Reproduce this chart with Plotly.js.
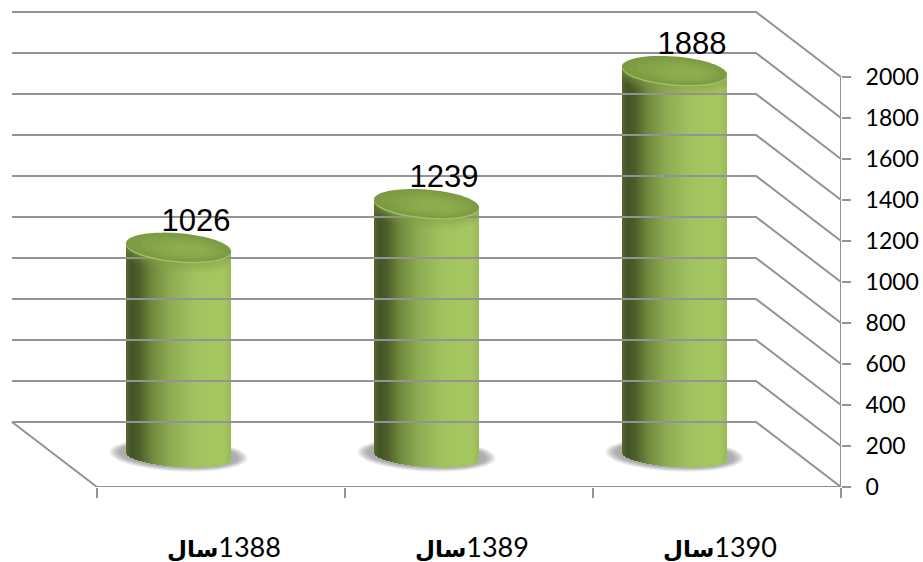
<!DOCTYPE html>
<html><head><meta charset="utf-8">
<script src="https://cdn.plot.ly/plotly-3.0.1.min.js"></script>
<style>html,body{margin:0;padding:0;background:#fff}</style></head>
<body><div id="chart" style="width:923px;height:562px"></div>
<script>
const yearWord = '\u0633\u0627\u0644';
const years = ['1388', '1389', '1390'];
const values = [1026, 1239, 1888];
const yTicks = [0, 200, 400, 600, 800, 1000, 1200, 1400, 1600, 1800, 2000];
const bodyStops = [[0,'#55682f'],[0.05,'#455429'],[0.12,'#4c5d2a'],[0.25,'#6f8a3c'],[0.42,'#8dab52'],[0.65,'#a2c25f'],[0.93,'#a5c760'],[1,'#9ab858']];
const capRings = [[1,0,1.5,'#a3bf63'],[1,0,0,'#7c9b42'],[0.9,2,0.5,'#7f9e44'],[0.78,4,1,'#83a247'],[0.65,6,1.5,'#87a64a'],[0.5,8,2,'#8aa94c'],[0.35,10,2,'#8dac4e']];
const shoulder = [[12,0.08],[10,0.10],[8,0.12],[6,0.15],[4,0.18],[2,0.22]];
const shadowRings = [[69,16.5,0.10],[67,15.5,0.11],[65,14.5,0.12],[63,14,0.13],[60,13,0.15]];

const W = 923, H = 562, mL = 10, mR = 82, mT = 5, mB = 75;
const pxX = 248, pxY = 0.205;
const depthX = 85 / pxX, depthY = 65 / pxY;
const colShift = 42.5 / pxX, colHalf = 52.5;
const capB = 14, botB = 10.5, tiltTop = 4, tiltBot = 3.5;
const baseV = 30.5 / pxY, capRise = 29.5 / pxY;
const grey = '#939393';

function hex(c){return [1,3,5].map(i=>parseInt(c.substr(i,2),16));}
function ramp(t){
  for(let i=1;i<bodyStops.length;i++){
    if(t<=bodyStops[i][0]){
      const [a,ca]=bodyStops[i-1],[b,cb]=bodyStops[i];
      const f=(t-a)/(b-a),A=hex(ca),B=hex(cb);
      return 'rgb('+A.map((v,k)=>Math.round(v+(B[k]-v)*f)).join(',')+')';
    }
  }
  return bodyStops[bodyStops.length-1][1];
}
function ellipsePath(cx,cyV,a,b,tilt,dxPx,dyPx){
  let d='';
  for(let k=0;k<72;k++){
    const th=k/72*2*Math.PI;
    const x=cx+(a*Math.cos(th)+dxPx)/pxX;
    const y=cyV-(b*Math.sin(th)+tilt*Math.cos(th)+dyPx)/pxY;
    d+=(k?'L':'M')+x.toFixed(4)+','+y.toFixed(2);
  }
  return d+'Z';
}

const traces = [], shapes = [];

/* back wall and side wall grid lines */
const gx=[], gy=[];
yTicks.forEach(v=>{
  gx.push(-85/pxX,3-depthX,3,null);
  gy.push(v+depthY,v+depthY,v,null);
});
gx.push(-85/pxX,0,null,0,3,null,3,3);
gy.push(depthY,0,null,0,0,null,0,2000);
traces.push({type:'scatter',mode:'lines',x:gx,y:gy,line:{color:grey,width:2},hoverinfo:'skip',showlegend:false,connectgaps:false});

/* cylinders */
values.forEach((v,i)=>{
  const cx=i+0.5-colShift;
  shadowRings.forEach(s=>{
    shapes.push({type:'path',layer:'below',xref:'x',yref:'y',path:ellipsePath(cx,baseV,s[0],s[1],3,0,-1.5),
      fillcolor:'rgba(90,90,90,'+s[2]+')',line:{width:0}});
  });
  const topV=v+capRise;
  const xs=[],bs=[],ys=[],cs=[],ws=[];
  const n=105;
  for(let k=0;k<n;k++){
    const t=(k+0.5)/n, u=2*t-1;
    const bot=baseV-(botB*Math.sqrt(1-u*u)+tiltBot*u)/pxY;
    xs.push(cx+u*colHalf/pxX);
    bs.push(bot);
    ys.push(topV-tiltTop*u/pxY-bot);
    cs.push(ramp(t));
    ws.push(1.25/pxX);
  }
  traces.push({type:'bar',x:xs,y:ys,base:bs,width:ws,marker:{color:cs,line:{width:0}},hoverinfo:'skip',showlegend:false});
  shoulder.forEach(s=>{
    shapes.push({type:'path',layer:'above',xref:'x',yref:'y',path:ellipsePath(cx,topV,colHalf,capB,tiltTop,0,s[0]),
      fillcolor:'rgba(134,160,72,'+s[1]+')',line:{width:0}});
  });
  capRings.forEach(r=>{
    shapes.push({type:'path',layer:'above',xref:'x',yref:'y',
      path:ellipsePath(cx,topV,colHalf*r[0],capB*r[0],tiltTop*r[0],r[1],r[2]),fillcolor:r[3],line:{width:0}});
  });
});

/* value labels */
traces.push({type:'scatter',mode:'text',
  x:values.map((v,i)=>i+0.5-colShift+17.5/pxX),
  y:values.map(v=>v+263),
  text:values.map(String),textposition:'middle center',
  textfont:{family:'"Liberation Sans",Arial,sans-serif',size:31,color:'#000'},
  hoverinfo:'skip',showlegend:false});

/* x2 carries only the tick marks between categories */
traces.push({type:'scatter',mode:'markers',x:[0,3],y:[0,0],xaxis:'x2',marker:{opacity:0,size:1},hoverinfo:'skip',showlegend:false});

const layout = {
  width:W,height:H,margin:{l:mL,r:mR,t:mT,b:mB,pad:0},
  paper_bgcolor:'#fff',plot_bgcolor:'#fff',barmode:'overlay',bargap:0,showlegend:false,
  xaxis:{type:'linear',range:[-87/pxX,3],showgrid:false,zeroline:false,showline:false,
    tickmode:'array',tickvals:years.map((y,i)=>i+0.5+3/pxX),
    ticktext:years.map(y=>'<b><span style="font-size:23px">'+yearWord+'</span></b>\u200E'+y),
    ticks:'outside',ticklen:37,tickwidth:1,tickcolor:'rgba(0,0,0,0)',
    tickfont:{family:'Lato,"DejaVu Sans",sans-serif',size:27,color:'#000'}},
  xaxis2:{overlaying:'x',matches:'x',side:'bottom',anchor:'y',range:[-87/pxX,3],showgrid:false,zeroline:false,showline:false,
    tickmode:'array',tickvals:[0,1,2,3],ticktext:['','','',''],ticks:'outside',ticklen:10,tickwidth:2,tickcolor:grey},
  yaxis:{range:[0,(H-mT-mB)/pxY],side:'right',showgrid:false,zeroline:false,showline:false,
    tickmode:'array',tickvals:yTicks,ticktext:yTicks.map(String),ticks:'outside',ticklen:9,tickwidth:2,tickcolor:grey,
    ticklabelstandoff:10,
    tickfont:{family:'Lato,sans-serif',size:23,color:'#000'}},
  shapes:shapes
};
Plotly.newPlot('chart',traces,layout,{displayModeBar:false,staticPlot:true});
</script></body></html>
